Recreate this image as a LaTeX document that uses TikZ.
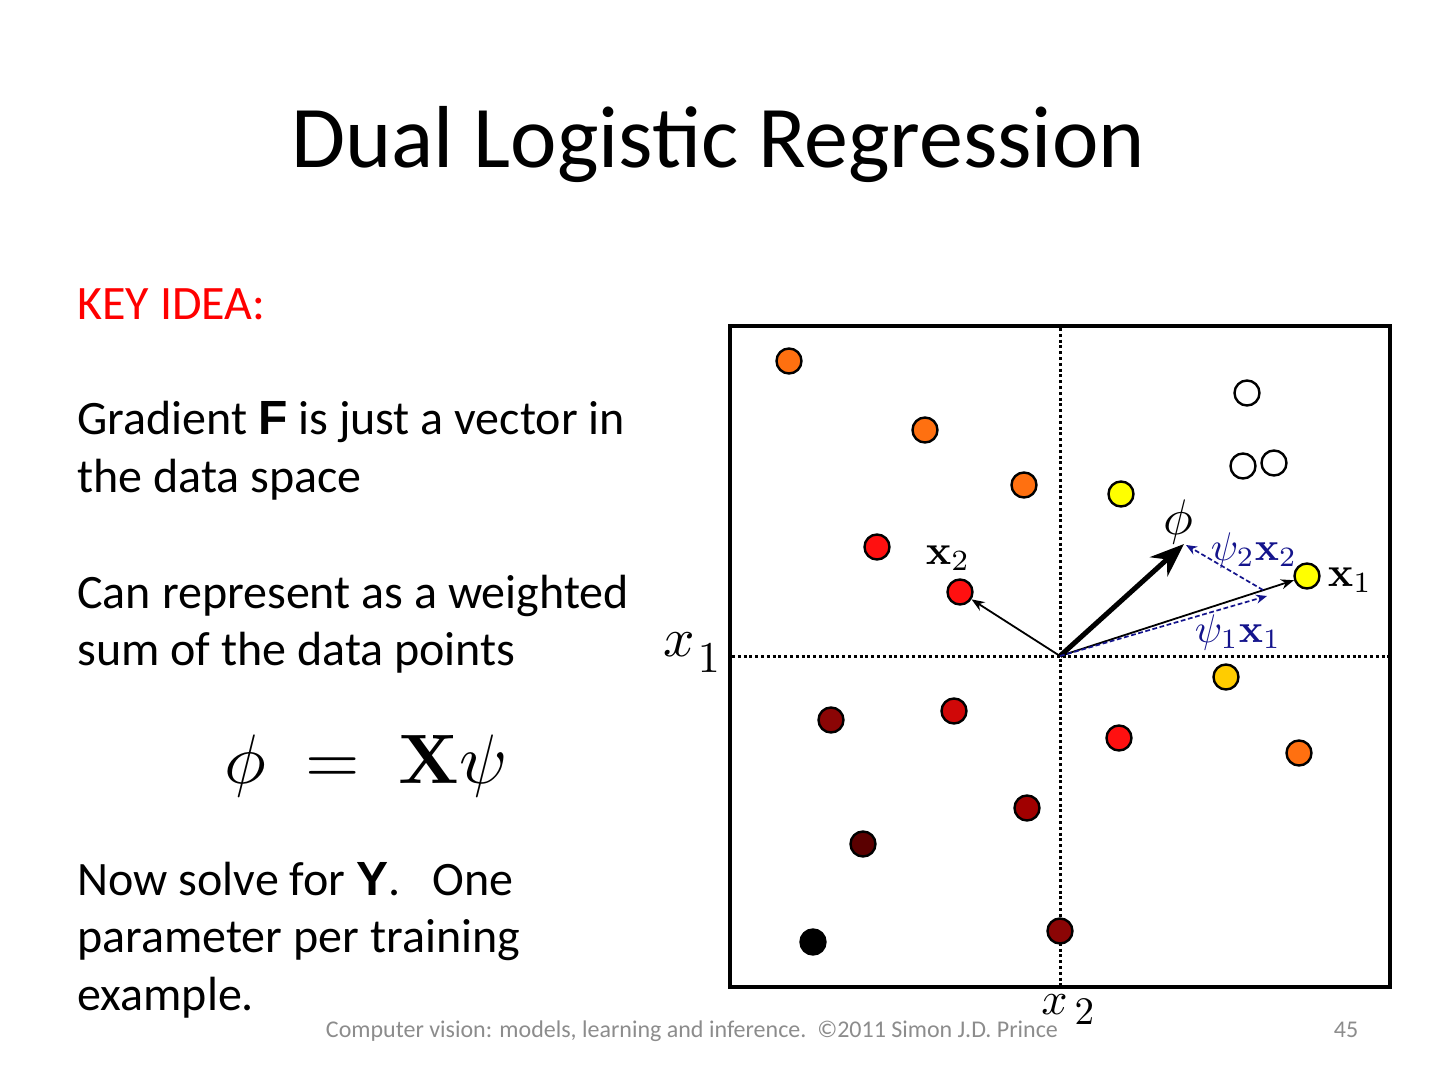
\documentclass[tikz,border=0pt]{standalone}
\usepackage[no-math]{fontspec}
\setmainfont{Carlito}
\newfontfamily\arialf{Liberation Sans}
\usetikzlibrary{arrows.meta}
\definecolor{cOrange}{HTML}{FF7010}
\definecolor{cRed}{HTML}{FF1010}
\definecolor{cRedB}{HTML}{D00808}
\definecolor{cDark}{HTML}{8B0505}
\definecolor{cDarkB}{HTML}{A00000}
\definecolor{cDeep}{HTML}{5A0000}
\definecolor{cYellow}{HTML}{FFFF00}
\definecolor{cGold}{HTML}{FFCC00}
\definecolor{cNavy}{HTML}{14148C}
\definecolor{cFoot}{HTML}{8C8C8C}
\begin{document}
\begin{tikzpicture}[x=0.5pt,y=-0.5pt,
  body/.style={anchor=base west, inner sep=0, font=\fontsize{24}{28.8}\selectfont},
  dot/.style={circle, draw=black, line width=1.2pt, minimum size=12.5pt, inner sep=0},
  axisline/.style={line width=1.5pt, dash pattern=on 1.5pt off 1.4pt},
  thinarrow/.style={line width=0.9pt, -{Stealth[length=6.5pt,width=5pt]}},
  bluearrow/.style={cNavy, line width=0.85pt, dash pattern=on 2.4pt off 1.3pt, -{Stealth[length=5.5pt,width=4.5pt]}},
  lab/.style={inner sep=0},
]
\useasboundingbox (0,0) rectangle (1440,1080);

% title
\node[anchor=base, inner sep=0, font=\fontsize{44}{50}\selectfont] (title) at (718,168) {Dual Logistic Regression};

% left text
\node[body, text=red] (key) at (77,320) {KEY IDEA:};
\node[body] (g1) at (77,435) {Gradient {\arialf\bfseries F} is just a vector in};
\node[body] (g2) at (77,492.5) {the data space};
\node[body] (c1) at (77,608) {Can represent as a weighted};
\node[body] (c2) at (77,665.5) {sum of the data points};
\node[anchor=base, inner sep=0] (eq) at (366,783) {\scalebox{3.5}{$\phi \;=\; \mathbf{X}\psi$}};
\node[body] (n1) at (77,895) {Now solve for {\arialf\bfseries Y}.\ \ \ One};
\node[body] (n2) at (77,952.5) {parameter per training};
\node[body] (n3) at (77,1010) {example.};

% plot frame and axes
\draw[line width=2pt] (730,326) rectangle (1390,987);
\draw[axisline] (1060,328) -- (1060,985);
\draw[axisline] (732,656) -- (1388,656);
\coordinate (o) at (1060,656);

% data points
\node[dot, fill=cOrange] (p1) at (789,361) {};
\node[dot, fill=cOrange] (p2) at (925,430) {};
\node[dot, fill=cOrange] (p3) at (1024,485) {};
\node[dot, fill=cYellow] (p4) at (1121,494) {};
\node[dot, fill=cRed] (p5) at (877,547) {};
\node[dot, fill=cRed] (px2) at (960,592) {};
\node[dot, fill=white] (p6) at (1247,393) {};
\node[dot, fill=white] (p7) at (1243,466) {};
\node[dot, fill=white] (p8) at (1274,463) {};
\node[dot, fill=cYellow] (px1) at (1307,576) {};
\node[dot, fill=cGold] (p9) at (1226,677) {};
\node[dot, fill=cDark] (p10) at (831,720) {};
\node[dot, fill=cRedB] (p11) at (954,711) {};
\node[dot, fill=cRed] (p12) at (1119,738) {};
\node[dot, fill=cOrange] (p13) at (1299,753) {};
\node[dot, fill=cDarkB] (p14) at (1027,808) {};
\node[dot, fill=cDeep] (p15) at (863,844) {};
\node[dot, fill=black] (p16) at (813,942) {};
\node[dot, fill=cDark] (p17) at (1060,931) {};

% vectors
\coordinate (phitip) at (1184,544);
\coordinate (q1) at (1267,596);
\coordinate (q2) at (1263,590);
\draw[thinarrow] (o) -- (px2);
\draw[thinarrow] (o) -- (px1);
\draw[line width=2.5pt, -{Stealth[length=17pt,width=13pt]}] (o) -- (phitip);
\draw[bluearrow] (o) -- (q1);
\draw[bluearrow] (q2) -- ([shift={(2,1)}]phitip);

% labels
\node[lab] (lphi) at (1178,522) {\scalebox{2.5}{$\phi$}};
\node[lab] (lx2) at (948,558) {\scalebox{2.1}{$\mathbf{x}_2$}};
\node[lab] (lx1) at (1350,580) {\scalebox{2.1}{$\mathbf{x}_1$}};
\node[lab, text=cNavy] (lpsi2) at (1254,550) {\scalebox{2.0}{$\psi_2\mathbf{x}_2$}};
\node[lab, text=cNavy] (lpsi1) at (1238,632) {\scalebox{2.0}{$\psi_1\mathbf{x}_1$}};
\node[anchor=base west, inner sep=0] (ax1) at (663,656) {\scalebox{2.75}{$x$}\kern1.5pt\raisebox{-8pt}{\scalebox{2.2}{$1$}}};
\node[anchor=base west, inner sep=0] (ax2) at (1041,1014) {\scalebox{2.3}{$x$}\kern3.5pt\raisebox{-5pt}{\scalebox{1.95}{$2$}}};

% footer
\node[anchor=base, inner sep=0, text=cFoot, font=\fontsize{12}{14}\selectfont] (foot) at (692,1037) {Computer vision: models, learning and inference.\ \ ©2011 Simon J.D. Prince};
\node[anchor=base, inner sep=0, text=cFoot, font=\fontsize{12}{14}\selectfont] (pg) at (1346,1037) {45};
\end{tikzpicture}
\end{document}
